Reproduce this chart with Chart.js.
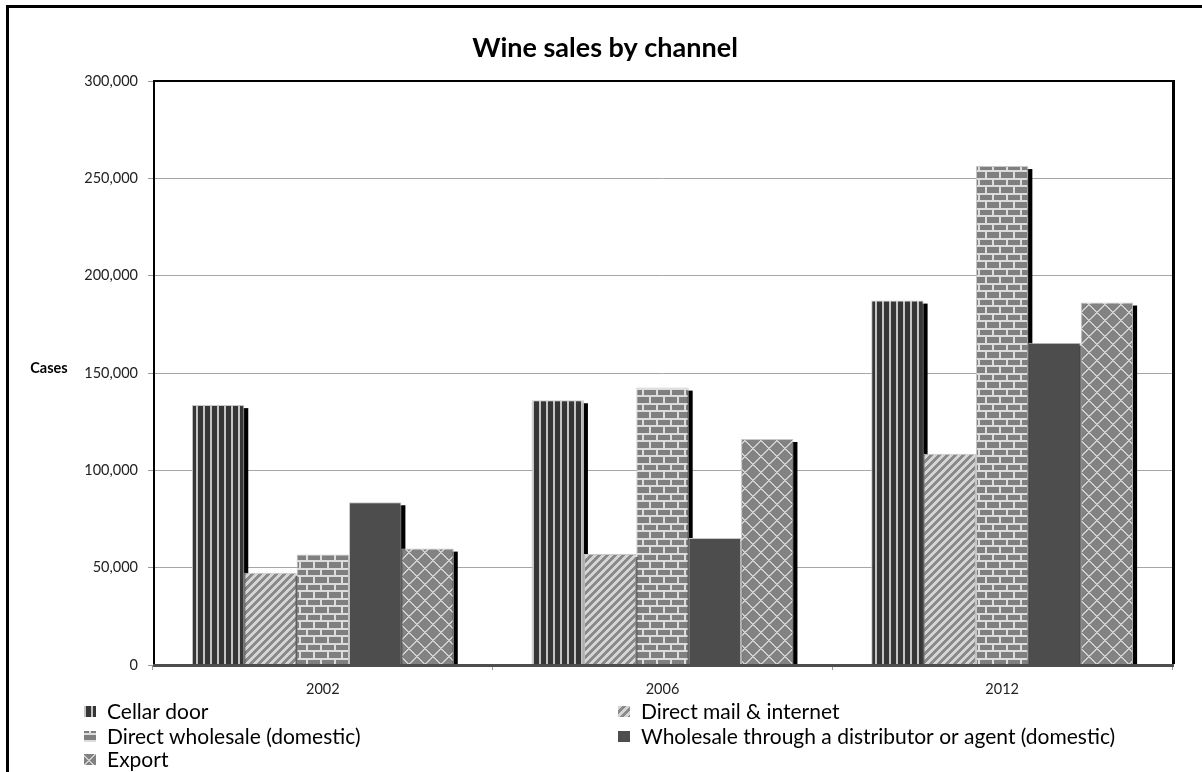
<!DOCTYPE html>
<html>
<head>
<meta charset="utf-8">
<script src="https://cdn.jsdelivr.net/npm/chart.js@4.4.0/dist/chart.umd.min.js"></script>
<style>
  html, body { margin: 0; padding: 0; background: #fff; }
  #wrap { width: 1202px; height: 772px; position: relative; }
</style>
</head>
<body>
<div id="wrap"><canvas id="sales-chart"></canvas></div>
<script>
const years = ['2002', '2006', '2012'];
const cellarDoor = [133500, 136000, 187200];
const directMail = [47400, 57000, 108500];
const directWholesale = [56700, 142500, 256300];
const distributor = [83600, 65200, 165600];
const exportSales = [59800, 116100, 186200];
const yTicks = [0, 50000, 100000, 150000, 200000, 250000, 300000];

const FONT = 'Lato, "Open Sans", sans-serif';
const canvas = document.getElementById('sales-chart');
const ctx = canvas.getContext('2d');

// small repeating tiles painted pixel by pixel
function tilePattern(w, h, colorAt) {
    const tile = document.createElement('canvas');
    tile.width = w;
    tile.height = h;
    const g = tile.getContext('2d');
    for (let y = 0; y < h; y++) {
        for (let x = 0; x < w; x++) {
            g.fillStyle = colorAt(x, y);
            g.fillRect(x, y, 1, 1);
        }
    }
    return ctx.createPattern(tile, 'repeat');
}

const stripes = tilePattern(7, 1, x => (x < 2 ? '#c4c4c4' : '#363636'));
const diagonal = tilePattern(8, 8, (x, y) => ((x + y) % 8 < 4 ? '#8a8a8a' : '#d4d4d4'));
const brick = tilePattern(14, 15, (x, y) => {
    if (y < 7) {
        return (y >= 5 || x >= 12) ? '#dcdcdc' : '#7f7f7f';
    }
    return (y >= 13 || x === 5 || x === 6) ? '#dcdcdc' : '#7f7f7f';
});
const lattice = tilePattern(16, 16, (x, y) =>
    ((x + y) % 16 < 2 || (x - y + 32) % 16 < 2) ? '#cfcfcf' : '#828282');

// black drop shadow to the lower right of every bar
const barShadow = {
    id: 'barShadow',
    beforeDatasetsDraw(chart) {
        const c = chart.ctx;
        c.save();
        c.fillStyle = '#000';
        chart.data.datasets.forEach((ds, i) => {
            chart.getDatasetMeta(i).data.forEach(bar => {
                const left = bar.x - bar.width / 2;
                c.fillRect(left + 4, bar.y + 3, bar.width, bar.base - bar.y - 3);
            });
        });
        c.restore();
    }
};

// plot frame, floor, outer border, title, axis caption and the two-column legend
const decorations = {
    id: 'decorations',
    afterDatasetsDraw(chart) {
        const c = chart.ctx;
        const a = chart.chartArea;
        c.save();
        c.fillStyle = '#4d4d4d';
        c.fillRect(a.left, a.bottom - 1, a.right - a.left + 2, 3);
        c.fillStyle = '#000';
        c.fillRect(a.left, a.top - 1, 2, a.bottom - a.top);
        c.fillRect(a.left, a.top - 1, a.right - a.left + 2, 2);
        c.fillRect(a.right, a.top - 1, 3, a.bottom - a.top);
        c.restore();
    },
    afterDraw(chart) {
        const c = chart.ctx;
        c.save();
        c.fillStyle = '#000';
        c.fillRect(6, 5, 3, chart.height - 5);
        c.fillRect(6, 5, chart.width - 6, 3);

        c.textAlign = 'center';
        c.textBaseline = 'alphabetic';
        c.font = 'bold 27px ' + FONT;
        c.fillText('Wine sales by channel', 605, 57);

        c.textBaseline = 'middle';
        c.font = 'bold 14.5px ' + FONT;
        c.fillText('Cases', 49, 368);

        const colX = [84, 618];
        const rowY = [712, 737, 760];
        c.font = '21px ' + FONT;
        c.textAlign = 'left';
        chart.data.datasets.forEach((ds, i) => {
            const x = colX[i % 2];
            const y = rowY[Math.floor(i / 2)];
            c.fillStyle = ds.backgroundColor;
            c.fillRect(x, y - 6, 12, 11);
            c.fillStyle = '#000';
            c.fillText(ds.label, x + 23, y);
        });
        c.restore();
    }
};

new Chart(canvas, {
    type: 'bar',
    data: {
        labels: years,
        datasets: [
            { label: 'Cellar door', data: cellarDoor, backgroundColor: stripes },
            { label: 'Direct mail & internet', data: directMail, backgroundColor: diagonal },
            { label: 'Direct wholesale (domestic)', data: directWholesale, backgroundColor: brick },
            { label: 'Wholesale through a distributor or agent (domestic)', data: distributor, backgroundColor: '#4d4d4d' },
            { label: 'Export', data: exportSales, backgroundColor: lattice }
        ]
    },
    options: {
        responsive: true,
        maintainAspectRatio: false,
        animation: false,
        layout: { padding: { top: 81, right: 30, bottom: 77, left: 0 } },
        datasets: {
            bar: {
                categoryPercentage: 0.771,
                barPercentage: 1,
                borderWidth: 1,
                borderColor: '#c8c8c8'
            }
        },
        plugins: {
            legend: { display: false },
            tooltip: { enabled: false },
            title: { display: false }
        },
        scales: {
            x: {
                grid: { drawOnChartArea: false, tickLength: 5, color: '#9a9a9a' },
                border: { display: false },
                ticks: { color: '#222', font: { family: FONT, size: 14.5 }, padding: 11 },
                afterFit(scale) { scale.height = 30; }
            },
            y: {
                min: 0,
                max: 300000,
                afterBuildTicks(scale) {
                    scale.ticks = yTicks.map(v => ({ value: v }));
                },
                grid: { color: '#a6a6a6', tickLength: 5, tickColor: '#9a9a9a' },
                border: { display: false },
                ticks: {
                    color: '#222',
                    font: { family: FONT, size: 14.5 },
                    padding: 10,
                    callback: v => v.toLocaleString('en-US')
                },
                afterFit(scale) { scale.width = 153; }
            }
        }
    },
    plugins: [barShadow, decorations]
});
</script>
</body>
</html>
